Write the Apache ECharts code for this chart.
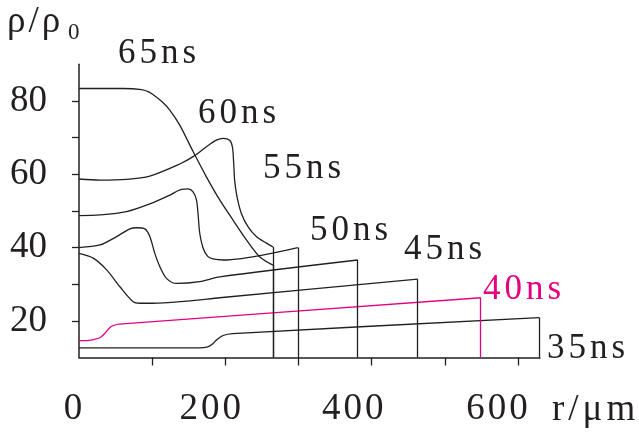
<!DOCTYPE html>
<html><head><meta charset="utf-8">
<script src="https://cdn.jsdelivr.net/npm/echarts@6/dist/echarts.min.js"></script>
<style>html,body{margin:0;padding:0;background:#fff}#c{width:639px;height:432px}</style>
</head><body><div id="c"></div>
<script>
// ---- data ----
const xMin = 0, xMax = 630, yMin = 10, yMax = 90;
const xTickLabels = [0, 200, 400, 600];
const yTickLabels = [20, 40, 60, 80];
const xTicks = [100, 200, 300, 400, 500, 600];
const yTicks = [20, 30, 40, 50, 60, 70, 80];
const seriesNames = ['65ns', '60ns', '55ns', '50ns', '45ns', '40ns', '35ns'];
const r65 = [[0,83.4],[60,83.4],[85.5,83.1],[96,82.4],[106,81.0],[115,79.5],[124.1,77.5],[137.7,73.4],[155.9,66.2],[174.1,59.3],[192.3,53.0],[210.5,47.5],[228.8,42.1],[246.9,37.5],[265,35.2]];
const r60 = [[0,58.7],[28.6,58.4],[65,58.6],[96.8,59.5],[137.7,62.8],[155.9,64.8],[174.1,67.5],[187.8,69.3],[196.8,69.8],[205.9,69.3],[209.6,67.5],[211.4,63.0],[212.7,58.4],[215.9,53.9],[221.9,49.3],[230.9,45.7],[242.3,43.0],[256,41.2],[265,40.2]];
const r55 = [[0,48.7],[28.6,48.9],[65,49.8],[96.8,51.9],[124.1,54.3],[140,55.9],[149,56.0],[155.9,55.2],[160.5,53.0],[162.7,49.2],[165,43.9],[169.5,39.9],[175.9,37.6],[183.1,36.9],[196.8,36.6],[299.1,40.0]];
const r50 = [[0,40.0],[28.6,40.7],[51.4,43.0],[69.5,45.1],[78.7,45.4],[90,45.1],[96.8,43.0],[103.6,38.4],[110.5,34.8],[119.6,31.6],[133.2,30.2],[165,30.7],[192.3,32.0],[380.9,36.6]];
const r45 = [[0,38.4],[19.5,37.1],[37.8,33.9],[55.9,29.3],[74.1,25.2],[83.2,24.8],[101,24.8],[146.9,25.4],[192.3,26.3],[462.7,31.4]];
const r40 = [[0,14.6],[10,14.6],[20,14.9],[28.6,15.4],[35.5,16.6],[42.3,18.2],[48,18.8],[55,19.1],[549,26.3]];
const r35 = [[0,12.6],[165,12.6],[176,12.9],[182,13.6],[188,14.8],[197,16.0],[210,16.5],[629,20.9]];
const seriesData = [r65, r60, r55, r50, r45, r40, r35];

// ---- styles ----
const INK = '#231f20', MAG = '#e4007f';
const colors = [INK, INK, INK, INK, INK, MAG, INK];
const SERIF = '"Liberation Serif", "Times New Roman", serif';
const labelPos = [[118,54],[198,113.5],[263,169],[310,230.5],[404,250],[483,289.5],[547,349]];
const xLabelShift = {0: 12, 200: 30, 400: 38, 600: 42};

function spaced(t, style) { return t.split('').map(c => '{' + style + '|' + c + '}').join(''); }

const chart = echarts.init(document.getElementById('c'), null, {renderer: 'canvas'});

const xRich = {d: {fontFamily: SERIF, fontSize: 37, color: INK, padding: [0, 3, 0, 0]}};
xTickLabels.forEach(v => { xRich['e' + v] = {fontFamily: SERIF, fontSize: 37, color: INK, padding: [0, xLabelShift[v], 0, 0]}; });
function xFmt(v) {
  const s = String(v);
  return s.slice(0, -1).split('').map(c => '{d|' + c + '}').join('') + '{e' + v + '|' + s.slice(-1) + '}';
}

const series = seriesData.map((d, i) => {
  const last = d[d.length - 1];
  return {
    name: seriesNames[i], type: 'line', data: d, smooth: 0.3, symbol: 'none', silent: true,
    lineStyle: {color: colors[i], width: 1.3},
    markLine: {
      silent: true, symbol: ['none', 'none'], label: {show: false}, animation: false,
      lineStyle: {color: colors[i], width: 1.3, type: 'solid'},
      data: [[{coord: [last[0], last[1]]}, {coord: [last[0], yMin]}]]
    }
  };
});

const graphics = seriesNames.map((n, i) => ({
  type: 'text', x: labelPos[i][0], y: labelPos[i][1], silent: true,
  style: {
    text: spaced(n, 'c'), textVerticalAlign: 'middle', textAlign: 'left',
    rich: {c: {fontFamily: SERIF, fontSize: 35, fill: colors[i], color: colors[i], padding: [0, 4, 0, 0]}},
    fill: colors[i]
  }
}));
graphics.push({
  type: 'text', x: 7, y: 22, silent: true,
  style: {text: spaced('ρ/ρ', 'g'), textVerticalAlign: 'middle',
    rich: {g: {fontFamily: SERIF, fontSize: 37, color: INK, padding: [0, 3, 0, 0]}}, fill: INK}
});
graphics.push({
  type: 'text', x: 68, y: 33, silent: true,
  style: {text: '0', font: '23px ' + SERIF, textVerticalAlign: 'middle', fill: INK}
});
graphics.push({
  type: 'text', x: 552, y: 410, silent: true,
  style: {text: spaced('r/μm', 'u'), textVerticalAlign: 'middle',
    rich: {u: {fontFamily: SERIF, fontSize: 37, color: INK, padding: [0, 4, 0, 0]}}, fill: INK}
});

chart.setOption({
  animation: false,
  backgroundColor: '#fff',
  grid: {left: 79, right: 99, top: 64.3, bottom: 74.5, containLabel: false},
  xAxis: {
    type: 'value', min: xMin, max: xMax,
    splitLine: {show: false},
    axisLine: {lineStyle: {color: INK, width: 1.5}},
    axisTick: {customValues: xTicks, length: 8, lineStyle: {color: INK, width: 1.3}},
    axisLabel: {customValues: xTickLabels, margin: 33, formatter: xFmt, rich: xRich,
      fontFamily: SERIF, fontSize: 37, color: INK}
  },
  yAxis: {
    type: 'value', min: yMin, max: yMax,
    splitLine: {show: false},
    axisLine: {show: true, lineStyle: {color: INK, width: 1.5}},
    axisTick: {show: true, customValues: yTicks, length: 7, lineStyle: {color: INK, width: 1.3}},
    axisLabel: {customValues: yTickLabels, margin: 32, fontFamily: SERIF, fontSize: 37, color: INK, padding: [0, 0, 8, 0]}
  },
  graphic: graphics,
  series: series
});
</script>
</body></html>
